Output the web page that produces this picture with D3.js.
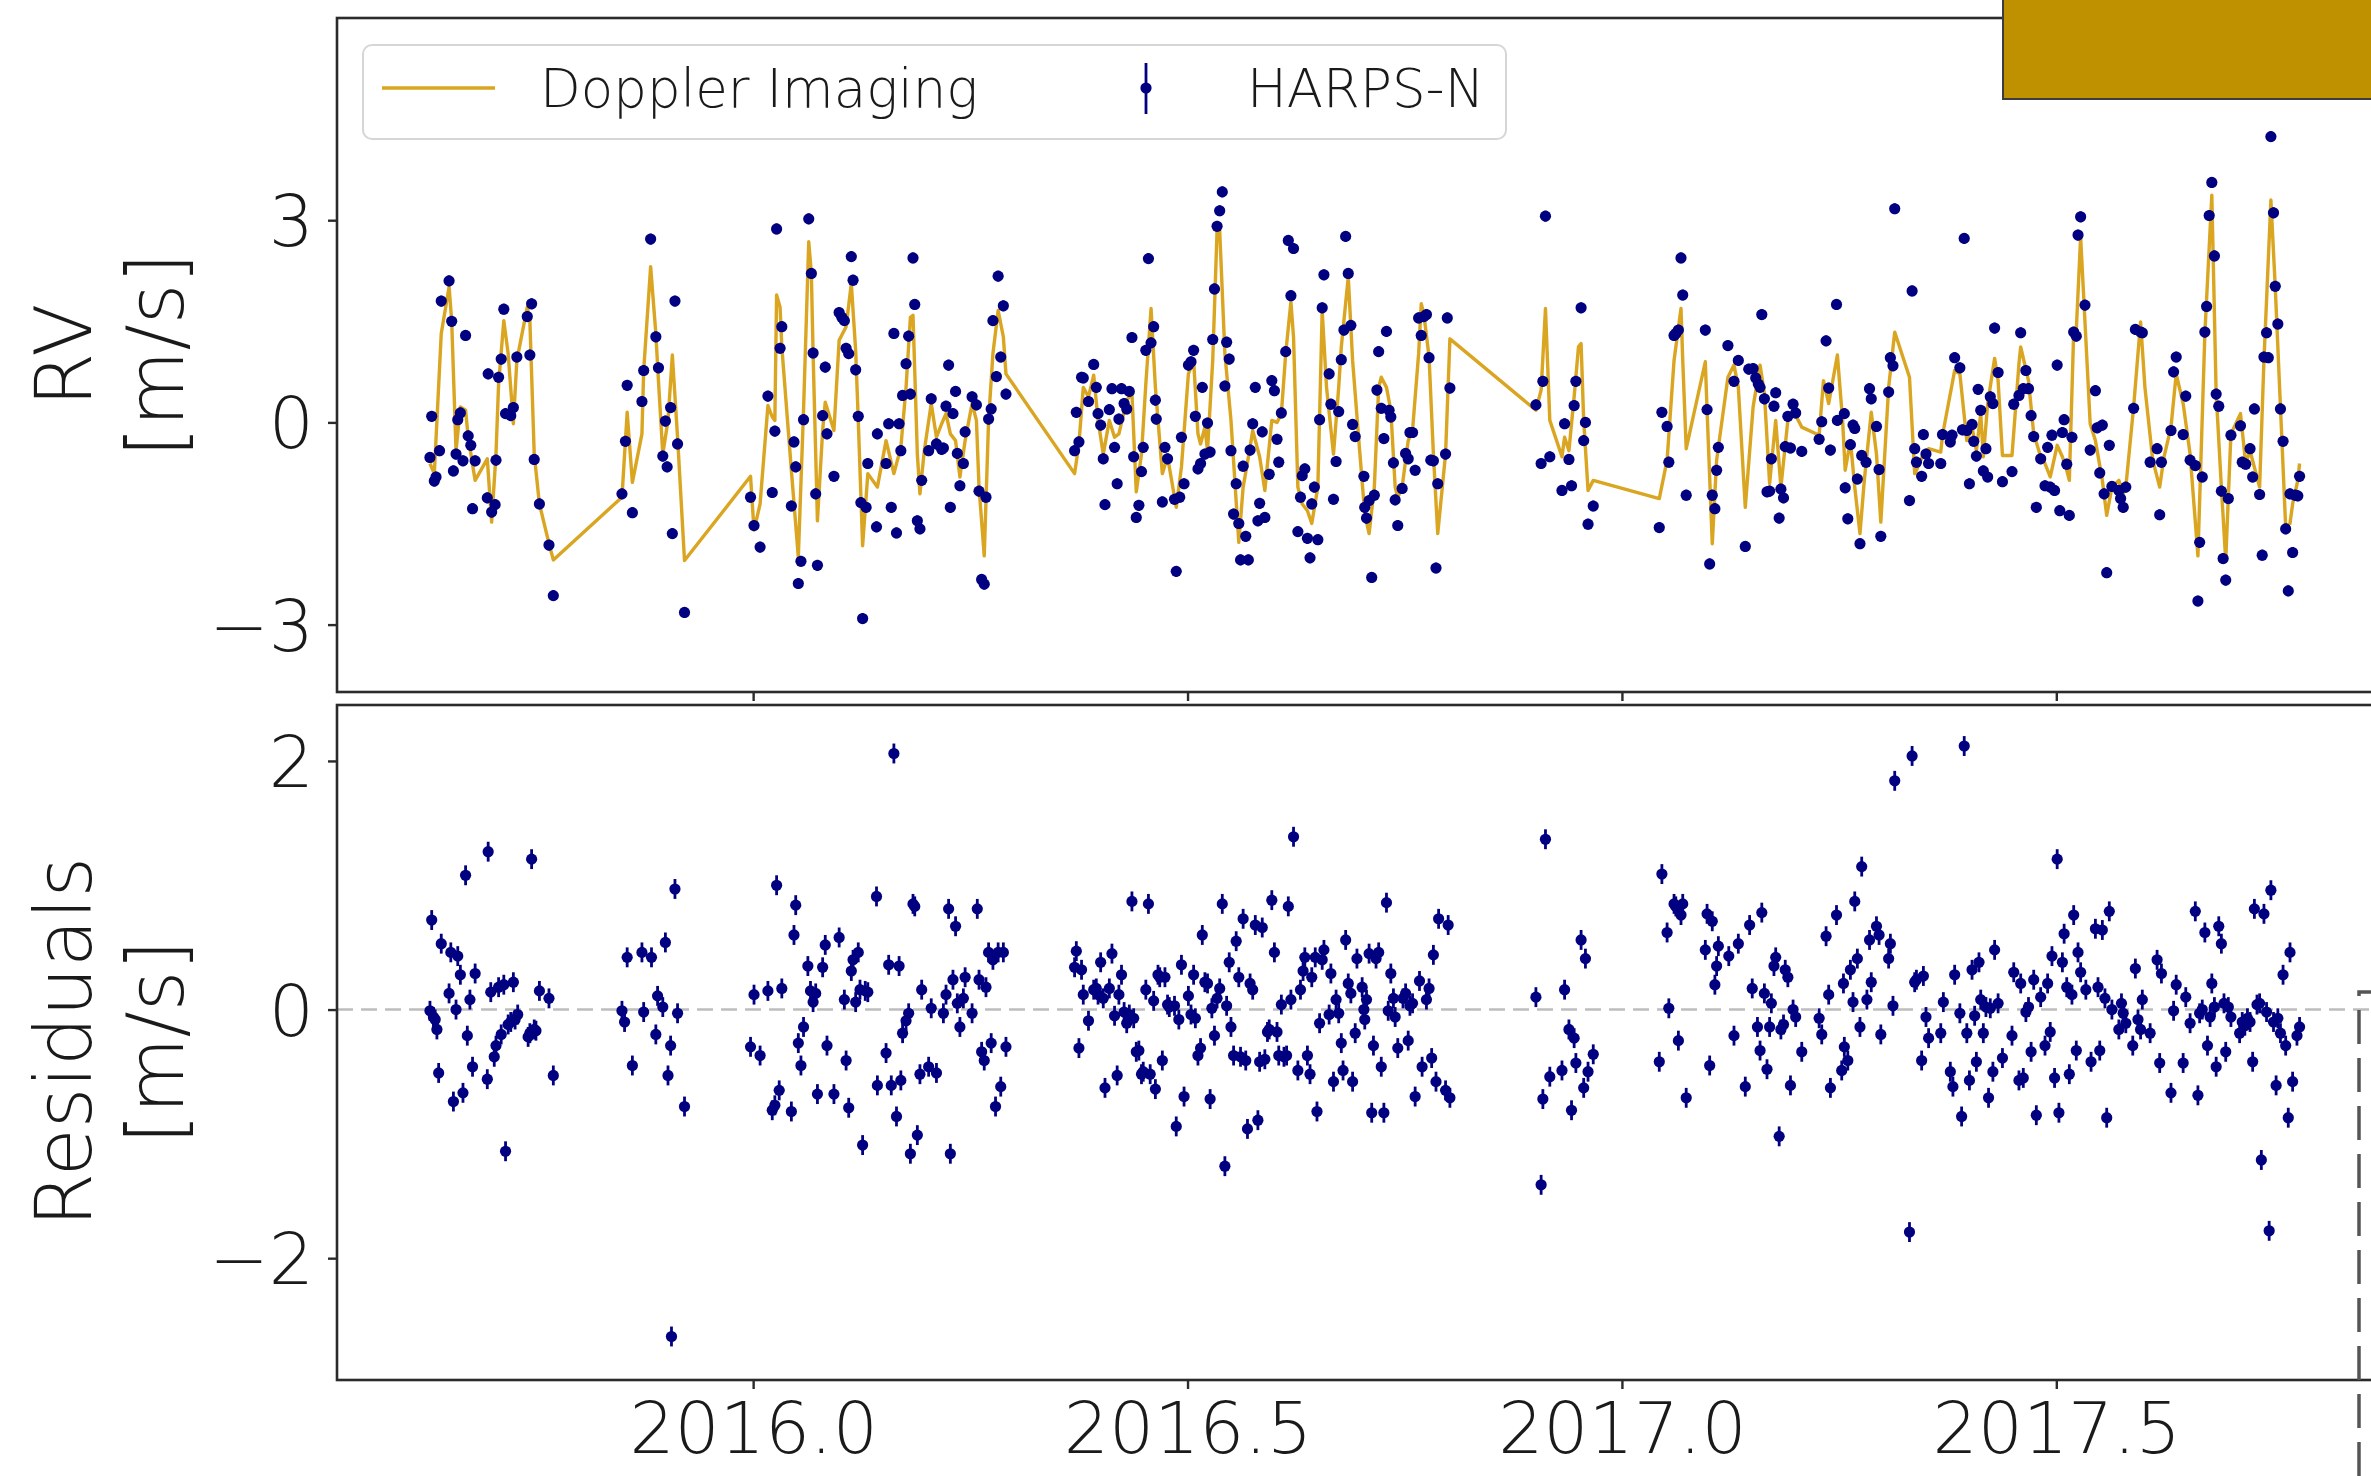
<!DOCTYPE html>
<html>
<head>
<meta charset="utf-8">
<script src="https://cdn.jsdelivr.net/npm/d3@7"></script>
<style>
body { margin: 0; background: #fff; }
text { font-family: "DejaVu Sans", sans-serif; font-weight: 200; fill: #1a1a1a; }
</style>
</head>
<body>
<div id="chart"></div>
<script>
/* RV time series: HARPS-N observations, Doppler imaging model and residuals */

// HARPS-N radial velocities [decimal year, m/s]
var rvObs = [
[2015.628,-0.52],[2015.630,0.09],[2015.633,-0.87],[2015.635,-0.81],[2015.639,-0.42],[2015.641,1.80],[2015.650,2.10],[2015.653,1.50],[2015.655,-0.72],[2015.658,-0.47],[2015.660,0.04],[2015.663,0.14],[2015.666,-0.57],[2015.669,1.29],[2015.672,-0.20],[2015.675,-0.34],[2015.677,-1.28],[2015.680,-0.57],[2015.694,-1.12],[2015.695,0.72],[2015.699,-1.33],[2015.703,-1.22],[2015.704,-0.56],[2015.707,0.67],[2015.710,0.94],[2015.713,1.68],[2015.715,0.13],[2015.721,0.10],[2015.724,0.22],[2015.728,0.97],[2015.740,1.57],[2015.743,1.00],[2015.745,1.76],[2015.748,-0.55],[2015.754,-1.21],[2015.765,-1.82],[2015.770,-2.57],
[2015.849,-1.06],[2015.853,-0.28],[2015.855,0.55],[2015.861,-1.34],[2015.872,0.31],[2015.874,0.77],[2015.882,2.72],[2015.888,1.27],[2015.891,0.81],[2015.896,-0.50],[2015.899,0.02],[2015.901,-0.66],[2015.905,0.22],[2015.907,-1.65],[2015.910,1.80],[2015.913,-0.32],[2015.921,-2.82],
[2015.997,-1.11],[2016.001,-1.53],[2016.008,-1.85],[2016.017,0.39],[2016.022,-1.04],[2016.025,-0.13],[2016.027,2.87],[2016.031,1.10],[2016.033,1.42],[2016.044,-1.24],[2016.047,-0.29],[2016.049,-0.66],[2016.052,-2.39],[2016.055,-2.06],[2016.058,0.04],[2016.064,3.02],[2016.067,2.21],[2016.069,1.03],[2016.072,-1.06],[2016.074,-2.12],[2016.080,0.10],[2016.083,0.82],[2016.085,-0.17],[2016.093,-0.80],[2016.099,1.63],[2016.102,1.56],[2016.105,1.51],[2016.107,1.10],[2016.110,1.02],[2016.113,2.46],[2016.115,2.11],[2016.118,0.78],[2016.121,0.09],[2016.124,-1.19],[2016.126,-2.91],[2016.130,-1.26],[2016.132,-0.61],[2016.142,-1.55],[2016.143,-0.17],
[2016.153,-0.61],[2016.156,-0.02],[2016.159,-1.26],[2016.162,1.32],[2016.165,-1.64],[2016.168,-0.02],[2016.170,-0.42],[2016.172,0.40],[2016.176,0.87],[2016.179,1.28],[2016.181,0.42],[2016.184,2.44],[2016.186,1.75],[2016.189,-1.46],[2016.192,-1.58],[2016.194,-0.86],[2016.202,-0.42],[2016.205,0.35],[2016.211,-0.32],[2016.217,-0.40],[2016.219,-0.38],[2016.222,0.24],[2016.225,0.85],[2016.227,-1.26],[2016.230,0.13],[2016.233,0.46],[2016.235,-0.46],[2016.238,-0.94],[2016.242,-0.61],[2016.244,-0.14],[2016.252,0.38],[2016.257,0.26],[2016.260,-1.02],[2016.263,-2.33],[2016.266,-2.40],[2016.268,-1.11],[2016.271,0.05],[2016.274,0.20],[2016.276,1.51],[2016.280,0.68],[2016.282,2.17],[2016.285,0.97],[2016.288,1.73],[2016.291,0.42],
[2016.370,-0.42],[2016.372,0.15],[2016.375,-0.29],[2016.378,0.67],[2016.380,0.66],[2016.386,0.31],[2016.392,0.86],[2016.395,0.52],[2016.397,0.13],[2016.400,-0.04],[2016.403,-0.54],[2016.405,-1.22],[2016.410,0.19],[2016.413,0.50],[2016.416,-0.37],[2016.419,-0.91],[2016.421,0.05],[2016.424,0.50],[2016.427,0.28],[2016.430,0.20],[2016.433,0.46],[2016.436,1.26],[2016.438,-0.51],[2016.441,-1.41],[2016.444,-1.23],[2016.447,-0.73],[2016.449,-0.37],[2016.452,1.07],[2016.455,2.43],[2016.458,1.18],[2016.461,1.42],[2016.463,0.33],[2016.464,0.05],[2016.471,-1.18],[2016.474,-0.37],[2016.477,-0.54],[2016.485,-1.14],[2016.487,-2.21],[2016.491,-1.11],[2016.493,-0.22],[2016.496,-0.91],[2016.501,0.85],[2016.504,0.90],[2016.507,1.07],[2016.509,0.09],[2016.512,-0.69],[2016.515,-0.61],[2016.517,0.52],[2016.520,-0.47],[2016.523,-0.01],[2016.526,-0.44],[2016.529,1.23],[2016.531,1.98],[2016.534,2.91],[2016.537,3.14],[2016.540,3.42],[2016.543,0.54],[2016.545,1.19],[2016.548,0.94],[2016.550,-0.42],[2016.553,-1.36],[2016.556,-0.91],[2016.559,-1.50],[2016.561,-2.04],[2016.564,-0.65],[2016.567,-1.69],[2016.570,-2.04],[2016.572,-0.41],[2016.575,-0.02],[2016.578,0.52],[2016.581,-1.46],[2016.583,-1.20],[2016.586,-0.14],[2016.589,-1.41],[2016.594,-0.77],[2016.597,0.62],[2016.600,0.47],[2016.603,-0.25],[2016.605,-0.59],[2016.608,0.14],[2016.613,1.05],[2016.616,2.70],[2016.619,1.88],[2016.622,2.58],[2016.627,-1.62],[2016.630,-1.11],[2016.632,-0.79],[2016.635,-0.69],[2016.638,-1.72],[2016.641,-2.01],[2016.643,-1.21],[2016.646,-0.96],[2016.650,-1.74],[2016.652,0.04],[2016.655,1.70],[2016.657,2.19],[2016.663,0.72],[2016.665,0.27],[2016.668,-1.14],[2016.671,-0.58],[2016.674,0.16],[2016.677,0.93],[2016.680,1.37],[2016.682,2.76],[2016.685,2.21],[2016.688,1.44],[2016.690,-0.03],[2016.693,-0.21],
[2016.703,-0.80],[2016.704,-1.26],[2016.706,-1.42],[2016.709,-1.16],[2016.712,-2.30],[2016.715,-1.08],[2016.718,0.48],[2016.720,1.05],[2016.723,0.21],[2016.726,-0.24],[2016.729,1.35],[2016.732,0.18],[2016.734,0.08],[2016.737,-0.60],[2016.739,-1.15],[2016.742,-1.53],[2016.747,-0.98],[2016.751,-0.46],[2016.754,-0.54],[2016.756,-0.15],[2016.759,-0.15],[2016.762,-0.71],[2016.766,1.55],[2016.769,1.29],[2016.772,1.57],[2016.775,1.60],[2016.778,0.96],[2016.780,-0.56],[2016.783,-0.57],[2016.786,-2.16],[2016.788,-0.91],[2016.797,-0.47],[2016.799,1.55],[2016.802,0.51],
[2016.901,0.26],[2016.907,-0.61],[2016.909,0.61],[2016.912,3.06],[2016.917,-0.51],[2016.931,-1.01],[2016.934,-0.02],[2016.939,-0.55],[2016.942,-0.94],[2016.945,0.25],[2016.947,0.61],[2016.953,1.70],[2016.956,-0.27],[2016.958,0.00],[2016.961,-1.51],[2016.967,-1.24],
[2017.043,-1.56],[2017.046,0.15],[2017.052,-0.06],[2017.054,-0.59],[2017.060,1.29],[2017.062,1.32],[2017.065,1.37],[2017.068,2.44],[2017.070,1.89],[2017.074,-1.08],[2017.096,1.37],[2017.098,0.19],[2017.101,-2.10],[2017.104,-1.08],[2017.107,-1.28],[2017.109,-0.71],[2017.111,-0.37],[2017.122,1.14],[2017.129,0.61],[2017.134,0.92],[2017.142,-1.84],[2017.146,0.79],[2017.151,0.80],[2017.154,0.66],[2017.157,0.57],[2017.159,0.52],[2017.161,1.60],[2017.164,0.35],[2017.167,-1.03],[2017.170,-1.02],[2017.172,-0.54],[2017.175,0.24],[2017.177,0.44],[2017.181,-1.42],[2017.183,-0.99],[2017.186,-1.12],[2017.188,-0.36],[2017.191,0.09],[2017.194,-0.38],[2017.197,0.27],[2017.200,0.14],[2017.207,-0.43],[2017.227,-0.25],[2017.230,0.01],[2017.235,1.21],[2017.238,0.51],[2017.240,-0.41],[2017.247,1.75],[2017.248,0.03],
[2017.256,0.13],[2017.257,-0.97],[2017.260,-1.43],[2017.263,-0.33],[2017.266,-0.04],[2017.268,-0.09],[2017.271,-0.84],[2017.274,-1.80],[2017.276,-0.49],[2017.281,-0.59],[2017.285,0.50],[2017.287,0.35],[2017.293,-0.06],[2017.296,-0.70],[2017.298,-1.69],[2017.307,0.45],[2017.309,0.96],[2017.312,0.84],[2017.314,3.17],[2017.331,-1.16],[2017.334,1.95],[2017.337,-0.39],[2017.339,-0.59],[2017.345,-0.80],[2017.347,-0.18],[2017.350,-0.47],[2017.353,-0.61],[2017.367,-0.61],[2017.369,-0.18],[2017.378,-0.29],[2017.380,-0.19],[2017.383,0.96],[2017.389,0.81],[2017.392,-0.11],[2017.394,2.73],[2017.397,-0.12],[2017.400,-0.91],[2017.403,-0.03],[2017.405,-0.28],[2017.408,-0.50],[2017.410,0.49],[2017.413,0.18],[2017.416,-0.72],[2017.419,-0.39],[2017.421,-0.81],[2017.424,0.38],[2017.427,0.28],[2017.429,1.40],[2017.433,0.74],[2017.438,-0.88],[2017.449,-0.73],[2017.451,0.27],[2017.457,0.40],[2017.459,1.33],[2017.462,0.50],[2017.465,0.77],[2017.468,0.50],[2017.471,0.10],[2017.474,-0.21],[2017.477,-1.26],[2017.482,-0.54],[2017.487,-0.94],[2017.490,-0.37],[2017.493,-0.96],[2017.495,-0.19],[2017.498,-1.01],[2017.501,0.85],[2017.504,-1.31],[2017.507,-0.15],[2017.509,0.04],[2017.512,-0.62],[2017.515,-1.38],[2017.518,-0.22],[2017.520,1.34],[2017.523,1.28],[2017.525,2.78],[2017.528,3.05],[2017.533,1.74],[2017.539,-0.41],[2017.545,0.47],[2017.547,-0.08],[2017.550,-0.75],[2017.553,-0.04],[2017.555,-1.06],[2017.558,-2.23],[2017.561,-0.34],[2017.564,-0.95],[2017.572,-1.01],[2017.574,-1.13],[2017.577,-1.26],[2017.580,-0.96],[2017.589,0.21],[2017.591,1.38],[2017.597,1.34],[2017.599,1.33],[2017.608,-0.59],[2017.616,-0.39],[2017.619,-1.37],[2017.621,-0.59],[2017.632,-0.12],[2017.635,0.75],[2017.638,0.97],[2017.646,-0.18],[2017.649,0.39],[2017.654,-0.56],[2017.660,-0.64],[2017.663,-2.65],[2017.665,-1.78],[2017.668,-0.81],[2017.671,1.34],[2017.673,1.72],[2017.676,3.07],[2017.679,3.56],[2017.682,2.47],[2017.684,0.42],[2017.687,0.24],[2017.690,-1.02],[2017.692,-2.02],[2017.695,-2.34],[2017.698,-1.13],[2017.701,-0.19],[2017.712,-0.05],[2017.714,-0.59],[2017.718,-0.62],[2017.723,-0.39],[2017.726,-0.81],[2017.728,0.20],[2017.734,-1.07],[2017.737,-1.97],[2017.739,0.97],[2017.742,1.33],[2017.744,0.96],[2017.747,4.24],[2017.750,3.11],[2017.752,2.02],[2017.755,1.46],[2017.758,0.20],[2017.761,-0.28],[2017.764,-1.58],[2017.767,-2.50],[2017.769,-1.06],[2017.772,-1.93],[2017.775,-1.08],[2017.778,-1.09],[2017.780,-0.80]
];

// Doppler imaging model curve [decimal year, m/s]
var dopplerModel = [
[2015.628,-0.61],[2015.633,-0.76],[2015.641,1.32],[2015.650,2.01],[2015.653,1.51],[2015.658,-0.42],[2015.663,0.23],[2015.669,0.18],[2015.672,-0.22],[2015.680,-0.86],[2015.694,-0.54],[2015.699,-1.48],[2015.704,-0.47],[2015.707,0.57],[2015.713,1.51],[2015.718,1.02],[2015.724,-0.02],[2015.728,0.92],[2015.740,1.71],[2015.743,1.51],[2015.748,-0.47],[2015.754,-1.21],[2015.765,-1.80],[2015.770,-2.04],
[2015.849,-1.11],[2015.855,0.15],[2015.861,-0.89],[2015.872,-0.17],[2015.874,0.77],[2015.882,2.31],[2015.888,1.32],[2015.891,0.62],[2015.896,-0.47],[2015.902,0.03],[2015.907,1.00],[2015.913,-0.22],[2015.921,-2.05],
[2015.997,-0.80],[2016.001,-1.60],[2016.008,-1.21],[2016.017,0.25],[2016.022,0.08],[2016.025,0.03],[2016.027,1.89],[2016.031,1.71],[2016.033,1.12],[2016.044,-0.71],[2016.052,-2.00],[2016.058,0.18],[2016.064,2.68],[2016.067,2.21],[2016.069,1.02],[2016.074,-1.46],[2016.080,-0.12],[2016.083,0.30],[2016.093,-0.12],[2016.099,1.22],[2016.107,1.42],[2016.113,2.06],[2016.118,1.07],[2016.121,0.03],[2016.126,-1.83],[2016.132,-0.76],[2016.143,-0.96],
[2016.153,-0.27],[2016.162,-0.76],[2016.170,-0.37],[2016.176,0.52],[2016.181,1.56],[2016.184,1.59],[2016.189,-0.47],[2016.192,-1.06],[2016.197,-0.42],[2016.205,0.28],[2016.211,-0.22],[2016.217,-0.02],[2016.222,0.13],[2016.227,-0.17],[2016.233,-0.27],[2016.238,-0.81],[2016.244,-0.27],[2016.252,0.28],[2016.257,0.03],[2016.260,-0.96],[2016.266,-1.98],[2016.271,0.03],[2016.276,1.02],[2016.282,1.66],[2016.288,1.27],[2016.291,0.72],
[2016.370,-0.76],[2016.375,-0.32],[2016.380,0.52],[2016.386,0.38],[2016.392,0.70],[2016.397,0.03],[2016.403,-0.47],[2016.410,0.03],[2016.416,-0.22],[2016.421,-0.17],[2016.430,0.33],[2016.436,0.43],[2016.441,-1.03],[2016.447,-0.47],[2016.452,0.57],[2016.458,1.69],[2016.463,0.52],[2016.471,-0.76],[2016.477,-0.51],[2016.487,-1.26],[2016.493,-0.66],[2016.501,0.72],[2016.507,0.92],[2016.512,-0.17],[2016.515,-0.32],[2016.520,-0.07],[2016.523,-0.42],[2016.529,0.92],[2016.534,2.85],[2016.537,2.85],[2016.543,1.02],[2016.550,0.03],[2016.559,-1.78],[2016.564,-0.96],[2016.572,-0.37],[2016.575,-0.12],[2016.583,-0.51],[2016.589,-1.01],[2016.597,0.03],[2016.603,0.00],[2016.608,0.13],[2016.613,1.02],[2016.619,1.79],[2016.622,1.27],[2016.627,-0.96],[2016.632,-1.21],[2016.638,-1.31],[2016.643,-1.50],[2016.650,-0.96],[2016.655,1.66],[2016.660,0.52],[2016.668,-0.47],[2016.674,0.52],[2016.677,1.12],[2016.685,2.16],[2016.690,0.92],[2016.698,-0.40],
[2016.704,-1.36],[2016.709,-1.65],[2016.715,-0.96],[2016.720,0.52],[2016.723,0.67],[2016.729,0.52],[2016.734,0.18],[2016.739,-0.96],[2016.742,-1.11],[2016.747,-0.96],[2016.754,-0.27],[2016.759,-0.12],[2016.766,1.02],[2016.769,1.76],[2016.772,1.61],[2016.778,0.97],[2016.783,-0.47],[2016.788,-1.65],[2016.797,-0.47],[2016.802,1.24],
[2016.901,0.18],[2016.907,0.48],[2016.912,1.69],[2016.917,0.03],[2016.931,-0.51],[2016.934,-0.22],[2016.939,-0.42],[2016.945,0.38],[2016.950,1.12],[2016.953,1.17],[2016.956,0.03],[2016.961,-1.01],[2016.967,-0.86],
[2017.043,-1.13],[2017.052,-0.56],[2017.060,0.92],[2017.068,1.69],[2017.070,0.92],[2017.074,-0.39],[2017.096,0.90],[2017.098,0.18],[2017.104,-1.80],[2017.109,-0.56],[2017.122,0.67],[2017.129,0.85],[2017.134,0.52],[2017.142,-1.26],[2017.151,0.23],[2017.159,0.85],[2017.164,0.43],[2017.170,-0.91],[2017.177,0.03],[2017.183,-0.96],[2017.191,0.03],[2017.197,0.18],[2017.207,-0.07],[2017.227,-0.19],[2017.232,0.62],[2017.238,0.28],[2017.248,1.00],
[2017.254,0.03],[2017.257,-0.71],[2017.263,-0.27],[2017.268,-0.96],[2017.274,-1.65],[2017.279,-0.86],[2017.287,0.15],[2017.293,-0.47],[2017.298,-1.48],[2017.307,0.52],[2017.314,1.34],[2017.331,0.67],[2017.337,-0.76],[2017.339,-0.71],[2017.347,-0.47],[2017.353,-0.39],[2017.361,-0.42],[2017.367,-0.44],[2017.369,-0.19],[2017.383,0.77],[2017.389,0.72],[2017.397,-0.27],[2017.403,-0.07],[2017.408,-0.42],[2017.413,0.13],[2017.416,-0.51],[2017.421,0.28],[2017.429,0.95],[2017.433,0.62],[2017.438,-0.49],[2017.449,-0.49],[2017.457,0.87],[2017.459,1.12],[2017.468,0.62],[2017.474,-0.17],[2017.482,-0.51],[2017.487,-0.61],[2017.493,-0.81],[2017.501,-0.34],[2017.507,-0.51],[2017.512,-0.71],[2017.515,-0.86],[2017.520,1.34],[2017.523,1.37],[2017.528,2.75],[2017.539,-0.02],[2017.545,-0.27],[2017.553,-0.86],[2017.558,-1.38],[2017.564,-0.96],[2017.572,-0.86],[2017.577,-1.06],[2017.580,-0.96],[2017.589,0.23],[2017.597,1.49],[2017.602,0.52],[2017.611,-0.56],[2017.619,-0.96],[2017.624,-0.51],[2017.632,-0.07],[2017.638,0.72],[2017.646,0.28],[2017.654,-0.47],[2017.663,-1.98],[2017.671,1.32],[2017.679,3.37],[2017.684,0.43],[2017.690,-0.96],[2017.695,-2.05],[2017.701,-0.17],[2017.712,0.13],[2017.718,-0.61],[2017.723,-0.42],[2017.734,-0.96],[2017.739,0.92],[2017.747,3.30],[2017.752,2.01],[2017.758,0.23],[2017.764,-1.55],[2017.769,-1.50],[2017.772,-1.21],[2017.778,-0.86],[2017.780,-0.61]
];

// residuals after subtracting the model [decimal year, m/s]
var residuals = [
[2015.628,-0.01],[2015.630,0.72],[2015.632,-0.06],[2015.634,-0.08],[2015.636,-0.16],[2015.638,-0.51],[2015.641,0.53],[2015.650,0.13],[2015.652,0.46],[2015.655,-0.74],[2015.658,0.00],[2015.660,0.43],[2015.663,0.28],[2015.666,-0.67],[2015.669,1.08],[2015.671,-0.21],[2015.674,0.08],[2015.677,-0.46],[2015.680,0.29],[2015.694,-0.56],[2015.695,1.27],[2015.698,0.14],[2015.702,-0.38],[2015.704,-0.29],[2015.707,0.18],[2015.710,-0.20],[2015.713,0.20],[2015.715,-1.14],[2015.718,-0.12],[2015.721,-0.10],[2015.724,0.22],[2015.726,-0.08],[2015.729,-0.04],[2015.741,-0.22],[2015.743,-0.19],[2015.745,1.21],[2015.748,-0.16],[2015.750,-0.17],[2015.754,0.15],[2015.765,0.09],[2015.770,-0.53],
[2015.849,-0.01],[2015.852,-0.10],[2015.855,0.42],[2015.861,-0.45],[2015.872,0.46],[2015.874,-0.02],[2015.883,0.42],[2015.888,-0.20],[2015.890,0.11],[2015.896,0.02],[2015.899,0.54],[2015.902,-0.53],[2015.905,-0.29],[2015.906,-2.63],[2015.910,0.97],[2015.913,-0.03],[2015.921,-0.78],
[2015.997,-0.30],[2016.001,0.12],[2016.008,-0.37],[2016.017,0.15],[2016.022,-0.81],[2016.025,-0.77],[2016.027,1.00],[2016.030,-0.65],[2016.033,0.17],[2016.044,-0.82],[2016.047,0.60],[2016.049,0.84],[2016.052,-0.27],[2016.055,-0.45],[2016.058,-0.14],[2016.063,0.35],[2016.066,0.15],[2016.069,0.06],[2016.072,0.13],[2016.074,-0.68],[2016.080,0.34],[2016.083,0.52],[2016.085,-0.29],[2016.093,-0.68],[2016.099,0.58],[2016.105,0.08],[2016.107,-0.41],[2016.110,-0.79],[2016.113,0.31],[2016.115,0.40],[2016.118,0.06],[2016.121,0.46],[2016.123,0.16],[2016.126,-1.09],[2016.129,0.15],[2016.132,0.14],[2016.142,0.91],[2016.143,-0.61],
[2016.153,-0.35],[2016.156,0.36],[2016.159,-0.61],[2016.162,2.06],[2016.165,-0.86],[2016.168,0.35],[2016.170,-0.57],[2016.172,-0.19],[2016.176,-0.09],[2016.179,-0.03],[2016.181,-1.16],[2016.184,0.85],[2016.186,0.83],[2016.189,-1.01],[2016.192,-0.52],[2016.194,0.16],[2016.202,-0.46],[2016.205,0.01],[2016.211,-0.51],[2016.219,-0.03],[2016.222,0.12],[2016.225,0.81],[2016.227,-1.16],[2016.230,0.24],[2016.233,0.67],[2016.235,0.05],[2016.238,-0.14],[2016.242,0.09],[2016.244,0.26],[2016.252,-0.03],[2016.258,0.81],[2016.260,0.24],[2016.263,-0.34],[2016.266,-0.41],[2016.268,0.18],[2016.271,0.46],[2016.274,-0.27],[2016.276,0.40],[2016.279,-0.78],[2016.282,0.46],[2016.285,-0.62],[2016.288,0.46],[2016.291,-0.30],
[2016.370,0.34],[2016.372,0.47],[2016.375,-0.31],[2016.378,0.32],[2016.380,0.12],[2016.386,-0.09],[2016.392,0.16],[2016.395,0.17],[2016.397,0.12],[2016.400,0.38],[2016.403,0.09],[2016.405,-0.63],[2016.410,0.17],[2016.413,0.45],[2016.416,-0.05],[2016.419,-0.53],[2016.421,0.12],[2016.424,0.28],[2016.427,-0.02],[2016.430,-0.11],[2016.433,-0.04],[2016.436,0.87],[2016.438,-0.07],[2016.441,-0.34],[2016.444,-0.33],[2016.447,-0.52],[2016.449,-0.50],[2016.452,0.16],[2016.455,0.85],[2016.457,-0.52],[2016.461,0.07],[2016.463,-0.64],[2016.466,0.28],[2016.468,0.26],[2016.471,-0.41],[2016.474,0.26],[2016.477,0.04],[2016.479,0.02],[2016.485,0.03],[2016.487,-0.94],[2016.490,-0.08],[2016.493,0.36],[2016.496,-0.70],[2016.501,0.11],[2016.504,-0.04],[2016.507,0.28],[2016.509,-0.07],[2016.512,-0.37],[2016.515,-0.31],[2016.517,0.60],[2016.520,0.22],[2016.523,0.21],[2016.526,-0.72],[2016.528,0.01],[2016.531,-0.21],[2016.534,0.09],[2016.537,0.17],[2016.540,0.85],[2016.543,-1.26],[2016.545,0.03],[2016.548,0.38],[2016.550,-0.14],[2016.553,-0.37],[2016.556,0.55],[2016.559,0.26],[2016.561,-0.38],[2016.564,0.73],[2016.567,-0.41],[2016.569,-0.96],[2016.572,0.21],[2016.575,0.16],[2016.578,0.68],[2016.581,-0.89],[2016.583,-0.42],[2016.586,0.66],[2016.589,-0.40],[2016.592,-0.18],[2016.594,-0.16],[2016.597,0.88],[2016.600,0.46],[2016.603,-0.18],[2016.605,-0.37],[2016.608,0.04],[2016.611,-0.38],[2016.614,-0.37],[2016.616,0.83],[2016.619,0.08],[2016.622,1.39],[2016.627,-0.49],[2016.630,0.16],[2016.633,0.31],[2016.635,0.42],[2016.638,-0.37],[2016.641,-0.52],[2016.643,0.26],[2016.647,0.42],[2016.649,-0.82],[2016.652,-0.11],[2016.655,0.40],[2016.657,0.48],[2016.663,-0.04],[2016.665,0.29],[2016.668,-0.58],[2016.671,0.08],[2016.674,-0.03],[2016.677,-0.27],[2016.679,-0.49],[2016.682,0.56],[2016.685,0.21],[2016.688,0.13],[2016.690,-0.58],[2016.693,-0.19],[2016.695,0.41],
[2016.701,0.18],[2016.703,0.00],[2016.704,-0.08],[2016.706,0.08],[2016.709,0.45],[2016.712,-0.83],[2016.714,-0.29],[2016.717,0.41],[2016.720,0.46],[2016.723,-0.46],[2016.726,-0.83],[2016.729,0.86],[2016.731,-0.01],[2016.734,0.29],[2016.737,0.09],[2016.739,-0.06],[2016.742,-0.31],[2016.748,0.09],[2016.751,0.13],[2016.754,-0.25],[2016.756,0.03],[2016.759,0.05],[2016.762,-0.70],[2016.767,0.23],[2016.770,-0.46],[2016.775,0.08],[2016.778,0.17],[2016.781,-0.39],[2016.783,0.44],[2016.786,-0.58],[2016.789,0.73],[2016.797,-0.65],[2016.800,0.68],[2016.802,-0.71],
[2016.901,0.10],[2016.907,-1.41],[2016.909,-0.72],[2016.912,1.37],[2016.917,-0.54],[2016.931,-0.49],[2016.934,0.16],[2016.939,-0.16],[2016.942,-0.81],[2016.945,-0.23],[2016.947,-0.43],[2016.953,0.56],[2016.956,-0.63],[2016.958,0.41],[2016.961,-0.50],[2016.967,-0.36],
[2017.043,-0.42],[2017.046,1.09],[2017.052,0.62],[2017.054,0.01],[2017.060,0.85],[2017.062,0.83],[2017.065,-0.25],[2017.068,0.76],[2017.070,0.85],[2017.074,-0.71],[2017.096,0.48],[2017.098,0.77],[2017.101,-0.45],[2017.104,0.71],[2017.107,0.20],[2017.109,0.35],[2017.111,0.51],[2017.123,0.43],[2017.129,-0.21],[2017.134,0.53],[2017.142,-0.62],[2017.147,0.68],[2017.150,0.17],[2017.156,-0.14],[2017.159,-0.33],[2017.161,0.78],[2017.164,0.13],[2017.167,-0.48],[2017.170,-0.14],[2017.172,0.05],[2017.175,0.35],[2017.177,0.42],[2017.181,-1.02],[2017.183,-0.16],[2017.186,-0.12],[2017.188,0.32],[2017.191,0.26],[2017.194,-0.61],[2017.197,0.00],[2017.200,-0.06],[2017.207,-0.34],[2017.227,-0.07],[2017.230,-0.20],[2017.235,0.59],[2017.238,0.12],[2017.240,-0.63],[2017.247,0.76],
[2017.253,-0.49],[2017.255,0.21],[2017.256,-0.30],[2017.260,-0.41],[2017.263,0.32],[2017.266,0.06],[2017.268,0.87],[2017.271,0.41],[2017.274,-0.14],[2017.276,1.15],[2017.282,0.08],[2017.285,0.56],[2017.287,0.22],[2017.293,0.67],[2017.296,0.60],[2017.298,-0.20],[2017.307,0.41],[2017.309,0.53],[2017.312,0.03],[2017.314,1.84],[2017.331,-1.79],[2017.334,2.04],[2017.337,0.22],[2017.339,0.24],[2017.345,-0.41],[2017.347,0.27],[2017.350,-0.06],[2017.353,-0.23],[2017.367,-0.19],[2017.370,0.06],[2017.378,-0.50],[2017.381,-0.62],[2017.383,0.28],[2017.389,-0.03],[2017.391,-0.86],[2017.394,2.12],[2017.397,-0.19],[2017.400,-0.57],[2017.403,0.32],[2017.406,-0.05],[2017.408,-0.42],[2017.411,0.38],[2017.413,0.08],[2017.416,-0.19],[2017.419,0.02],[2017.422,-0.71],[2017.424,0.01],[2017.427,-0.50],[2017.429,0.48],[2017.433,0.05],[2017.438,-0.39],[2017.449,-0.21],[2017.451,0.30],[2017.457,-0.57],[2017.459,0.21],[2017.462,-0.55],[2017.465,-0.02],[2017.468,0.02],[2017.471,-0.34],[2017.474,0.24],[2017.477,-0.85],[2017.482,0.10],[2017.487,-0.29],[2017.490,0.21],[2017.493,-0.18],[2017.495,0.43],[2017.498,-0.55],[2017.501,1.21],[2017.503,-0.83],[2017.507,0.38],[2017.509,0.61],[2017.512,0.18],[2017.515,-0.52],[2017.518,0.12],[2017.520,0.76],[2017.523,-0.33],[2017.525,0.46],[2017.528,0.30],[2017.534,0.16],[2017.540,-0.42],[2017.545,0.65],[2017.548,0.18],[2017.550,-0.33],[2017.553,0.64],[2017.556,0.09],[2017.558,-0.87],[2017.561,0.79],[2017.564,0.00],[2017.572,-0.16],[2017.575,0.05],[2017.577,-0.03],[2017.580,-0.11],[2017.588,-0.29],[2017.591,0.33],[2017.594,-0.08],[2017.597,-0.16],[2017.599,0.08],[2017.608,-0.19],[2017.616,0.40],[2017.619,-0.43],[2017.621,0.29],[2017.632,-0.67],[2017.635,-0.01],[2017.638,0.20],[2017.646,-0.43],[2017.649,0.10],[2017.654,-0.11],[2017.660,0.79],[2017.663,-0.69],[2017.665,-0.03],[2017.668,0.00],[2017.671,0.62],[2017.674,-0.29],[2017.677,-0.06],[2017.679,0.21],[2017.682,0.02],[2017.684,-0.46],[2017.687,0.67],[2017.690,0.53],[2017.693,0.05],[2017.695,-0.34],[2017.698,0.02],[2017.701,-0.06],[2017.711,-0.19],[2017.714,-0.10],[2017.717,-0.13],[2017.720,-0.07],[2017.723,-0.10],[2017.726,-0.42],[2017.728,0.81],[2017.731,0.04],[2017.734,0.05],[2017.736,-1.21],[2017.739,0.77],[2017.742,-0.02],[2017.745,-1.78],[2017.747,0.96],[2017.750,-0.10],[2017.753,-0.61],[2017.755,-0.07],[2017.758,-0.19],[2017.761,0.28],[2017.764,-0.29],[2017.767,-0.87],[2017.769,0.46],[2017.772,-0.58],[2017.777,-0.21],[2017.780,-0.14]
];

// typical HARPS-N error bar (m/s)
var harpsErr = 0.08;

// axis ticks and labels
var yearTicks = [2016.0, 2016.5, 2017.0, 2017.5];
var rvTicks = [-3, 0, 3];
var resTicks = [-2, 0, 2];
var rvLabel = ["RV", "[m/s]"];
var resLabel = ["Residuals", "[m/s]"];
var legendLabels = ["Doppler Imaging", "HARPS-N"];

(function(){

    var W = 2371, H = 1476;
    var svg, x, yRV, yRes;
    var navy = "#000080", gold = "#DAA520";
    var dotR = 5.6;

    function minusFmt(d){
        return d < 0 ? "\u2212" + Math.abs(d) : String(d);
    }

    function setup(){
        svg = d3.select("#chart").append("svg")
            .attr("width", W)
            .attr("height", H);

        x = d3.scaleLinear().domain([2015.521, 2017.891]).range([337, 2396]);
        yRV = d3.scaleLinear().domain([-4, 6]).range([692, 18]);
        yRes = d3.scaleLinear().domain([-2.98, 2.45]).range([1380, 705]);

        //clip paths for both panels
        var defs = svg.append("defs");
        defs.append("clipPath").attr("id", "clipTop")
            .append("rect").attr("x", 337).attr("y", 18).attr("width", 2059).attr("height", 674);
        defs.append("clipPath").attr("id", "clipBot")
            .append("rect").attr("x", 337).attr("y", 705).attr("width", 2059).attr("height", 675);
    }

    //frame + ticks for one panel
    function drawAxes(y, ticks, showXLabels){
        var y0 = y.range()[1], y1 = y.range()[0];

        var yAxis = d3.axisLeft(y).tickValues(ticks).tickSize(9).tickPadding(14).tickFormat(minusFmt);
        var gy = svg.append("g").attr("transform", "translate(337,0)").call(yAxis);
        gy.select(".domain").remove();

        var xAxis = d3.axisBottom(x).tickValues(yearTicks).tickSize(9).tickPadding(14)
            .tickFormat(showXLabels ? d3.format(".1f") : "");
        var gx = svg.append("g").attr("transform", "translate(0," + y1 + ")").call(xAxis);
        gx.select(".domain").remove();

        [gy, gx].forEach(function(g){
            g.selectAll("line").attr("stroke", "#2b2b2b").attr("stroke-width", 2.4);
            g.selectAll("text").attr("font-size", 71).attr("font-family", null).attr("fill", "#1a1a1a");
        });
        gy.selectAll("text").attr("dy", "0.36em");

        svg.append("rect")
            .attr("x", 337).attr("y", y0)
            .attr("width", 2059).attr("height", y1 - y0)
            .attr("fill", "none")
            .attr("stroke", "#2b2b2b")
            .attr("stroke-width", 2.6);
    }

    function drawYLabel(lines, cy){
        var t = svg.append("text")
            .attr("transform", "translate(91," + cy + ") rotate(-90)")
            .attr("text-anchor", "middle")
            .attr("font-size", 78);
        t.append("tspan").attr("x", 0).attr("y", 0).text(lines[0]);
        t.append("tspan").attr("x", 0).attr("y", 92).text(lines[1]);
    }

    function drawErrorbars(g, data, y){
        g.selectAll("line.err").data(data).enter().append("line")
            .attr("class", "err")
            .attr("x1", function(d){ return x(d[0]); })
            .attr("x2", function(d){ return x(d[0]); })
            .attr("y1", function(d){ return y(d[1] - harpsErr); })
            .attr("y2", function(d){ return y(d[1] + harpsErr); })
            .attr("stroke", navy)
            .attr("stroke-width", 2.8);
        g.selectAll("circle").data(data).enter().append("circle")
            .attr("cx", function(d){ return x(d[0]); })
            .attr("cy", function(d){ return y(d[1]); })
            .attr("r", dotR)
            .attr("fill", navy);
    }

    function drawTop(){
        var g = svg.append("g").attr("clip-path", "url(#clipTop)");
        var line = d3.line()
            .x(function(d){ return x(d[0]); })
            .y(function(d){ return yRV(d[1]); });
        g.append("path")
            .datum(dopplerModel)
            .attr("d", line)
            .attr("fill", "none")
            .attr("stroke", gold)
            .attr("stroke-width", 3.4)
            .attr("stroke-linejoin", "round");
        drawErrorbars(g, rvObs, yRV);
    }

    function drawBottom(){
        var g = svg.append("g").attr("clip-path", "url(#clipBot)");
        //zero reference line
        g.append("line")
            .attr("x1", 337).attr("x2", 2396)
            .attr("y1", yRes(0)).attr("y2", yRes(0))
            .attr("stroke", "#bdbdbd")
            .attr("stroke-width", 2.6)
            .attr("stroke-dasharray", "16,8");
        drawErrorbars(g, residuals, yRes);
    }

    function drawLegend(){
        var g = svg.append("g");
        g.append("rect")
            .attr("x", 363).attr("y", 45)
            .attr("width", 1143).attr("height", 94)
            .attr("rx", 9)
            .attr("fill", "#fff").attr("fill-opacity", 0.8)
            .attr("stroke", "#d6d6d6").attr("stroke-width", 2);
        g.append("line")
            .attr("x1", 382).attr("x2", 495).attr("y1", 88).attr("y2", 88)
            .attr("stroke", gold).attr("stroke-width", 3.4);
        g.append("text").attr("x", 540).attr("y", 107).attr("font-size", 53).text(legendLabels[0]);
        g.append("line")
            .attr("x1", 1146).attr("x2", 1146).attr("y1", 63).attr("y2", 114)
            .attr("stroke", navy).attr("stroke-width", 2.8);
        g.append("circle").attr("cx", 1146).attr("cy", 88).attr("r", dotR).attr("fill", navy);
        g.append("text").attr("x", 1247).attr("y", 107).attr("font-size", 53).text(legendLabels[1]);
    }

    //overlays from the surrounding slide
    function drawOverlays(){
        svg.append("rect")
            .attr("x", 2003).attr("y", -2)
            .attr("width", 400).attr("height", 101)
            .attr("fill", "#BF9000")
            .attr("stroke", "#3d3d3d").attr("stroke-width", 2);
        svg.append("path")
            .attr("d", "M2359,1476 L2359,992 L2375,992")
            .attr("fill", "none")
            .attr("stroke", "#555")
            .attr("stroke-width", 3.5)
            .attr("stroke-dasharray", "34,14");
    }

    document.addEventListener("DOMContentLoaded", function(){
        setup();
        drawTop();
        drawBottom();
        drawAxes(yRV, rvTicks, false);
        drawAxes(yRes, resTicks, true);
        drawYLabel(rvLabel, 355);
        drawYLabel(resLabel, 1042);
        drawLegend();
        drawOverlays();
    });

})();
</script>
</body>
</html>
